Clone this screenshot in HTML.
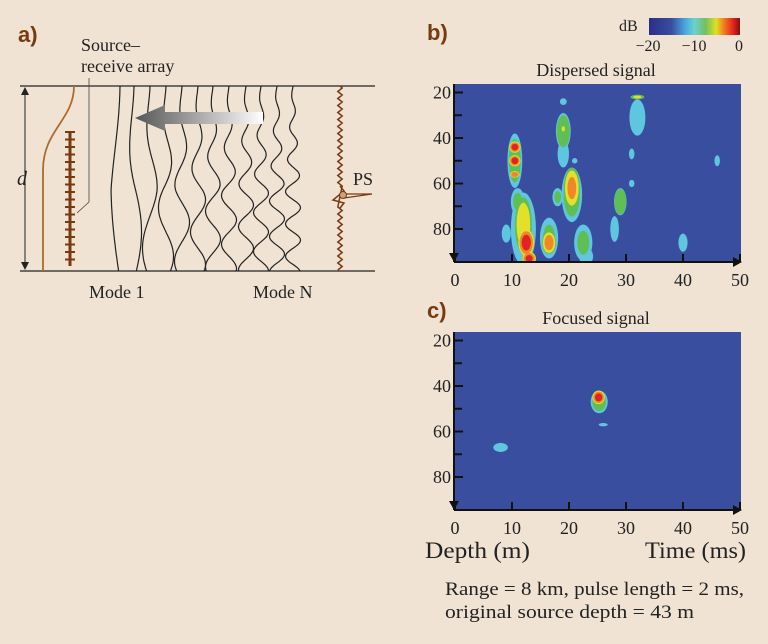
<!DOCTYPE html>
<html><head><meta charset="utf-8"><style>
html,body{margin:0;padding:0;background:#f0e3d4;}
svg{display:block;font-family:"Liberation Serif",serif;}
</style></head><body>
<svg id="fig" width="768" height="644" viewBox="0 0 768 644">
<defs>
<linearGradient id="arrg" x1="0" x2="1" y1="0" y2="0"><stop offset="0" stop-color="#555"/><stop offset="1" stop-color="#fff"/></linearGradient>
<linearGradient id="cbar" x1="0" x2="1"><stop offset="0" stop-color="#2a2f86"/><stop offset="0.25" stop-color="#3a4ea0"/><stop offset="0.4" stop-color="#4aa8e0"/><stop offset="0.5" stop-color="#6cd0d0"/><stop offset="0.62" stop-color="#70c060"/><stop offset="0.74" stop-color="#e0e020"/><stop offset="0.82" stop-color="#f08020"/><stop offset="0.93" stop-color="#e02020"/><stop offset="1" stop-color="#801010"/></linearGradient>
<clipPath id="clipB"><rect x="455" y="84" width="286" height="178"/></clipPath>
<clipPath id="clipC"><rect x="455" y="332" width="286" height="178"/></clipPath>
</defs>

<g>
<text x="18" y="42" font-family="Liberation Sans,sans-serif" font-weight="bold" font-size="22" fill="#7a3a10">a)</text>
<text x="81" y="51" font-size="18" fill="#222">Source–</text>
<text x="81" y="72" font-size="18" fill="#222">receive array</text>
<line x1="20" y1="86" x2="375" y2="86" stroke="#222" stroke-width="1.2"/>
<line x1="20" y1="271" x2="375" y2="271" stroke="#222" stroke-width="1.2"/>
<g>
<line x1="25" y1="92" x2="25" y2="265" stroke="#222"/>
<path d="M21,95 L25,87 L29,95Z M21,262 L25,270 L29,262Z" fill="#222"/>
<text x="17" y="185" font-size="20" font-style="italic" fill="#222">d</text>
</g>
<path d="M74,86 C74,120 43,130 43,170 L43,271" fill="none" stroke="#b06a2a" stroke-width="1.8"/>
<path d="M89,78 L89,202 L77,213" fill="none" stroke="#444" stroke-width="0.8"/>
<g id="arr"></g>
<g id="modes"></g>
<g>
<path d="M263,112 L165,112 L165,105 L135,118 L165,131 L165,124 L263,124Z" fill="url(#arrg)"/>
</g>
<path id="ps" fill="none" stroke="#7a3a10" stroke-width="1.5"/>
<path d="M344,194 L372,194 L344,198" fill="none" stroke="#7a3a10" stroke-width="1.2"/>
<circle cx="343" cy="195" r="3.5" fill="#c9a27a" stroke="#7a3a10"/>
<text x="353" y="185" font-size="18" fill="#222">PS</text>
<text x="89" y="298" font-size="18" fill="#222">Mode 1</text>
<text x="253" y="298" font-size="18" fill="#222">Mode N</text>
</g>

<g>
<text x="619" y="31" font-size="16" fill="#222">dB</text>
<rect x="649" y="18" width="91" height="17" fill="url(#cbar)"/>
<text x="648" y="51" font-size="16" text-anchor="middle" fill="#222">−20</text>
<text x="694" y="51" font-size="16" text-anchor="middle" fill="#222">−10</text>
<text x="739" y="51" font-size="16" text-anchor="middle" fill="#222">0</text>
</g>

<text x="427" y="40" font-family="Liberation Sans,sans-serif" font-weight="bold" font-size="22" fill="#7a3a10">b)</text>
<text x="596" y="76" font-size="18" text-anchor="middle" fill="#222">Dispersed signal</text>
<text x="427" y="318" font-family="Liberation Sans,sans-serif" font-weight="bold" font-size="22" fill="#7a3a10">c)</text>
<text x="596" y="324" font-size="18" text-anchor="middle" fill="#222">Focused signal</text>

<g id="plotB"></g>
<g id="plotC"></g>

<text x="425" y="558" font-size="23" fill="#222" textLength="105" lengthAdjust="spacingAndGlyphs">Depth (m)</text>
<text x="645" y="558" font-size="23" fill="#222" textLength="101" lengthAdjust="spacingAndGlyphs">Time (ms)</text>
<text x="445" y="595" font-size="19" fill="#222" textLength="299" lengthAdjust="spacingAndGlyphs">Range = 8 km, pulse length = 2 ms,</text>
<text x="445" y="618" font-size="19" fill="#222" textLength="249" lengthAdjust="spacingAndGlyphs">original source depth = 43 m</text>
</svg>
<script>
const xTicks = [0, 10, 20, 30, 40, 50];
const yTicks = [20, 40, 60, 80];
const yMinorTicks = [30, 50, 70];
const levels = [-16, -12, -8, -5, -2];
const levelColors = ['#5ec6de', '#5fbf55', '#e2e02a', '#f0882a', '#e02424'];
// blobs: time(ms), depth(m), half-width(ms), half-height(m), peak dB
const blobTime  = [10.5,10.5,10.5,10.5,11,12,12.5,13,12,9,16.5,16.5,19,19,19,19,21,20.5,20.5,18,22.5,23,32,32,31,31,29,28,40,46,35,33.5];
const blobDepth = [50,44,50,56,68,78,86,93,80,82,86,84,24,37,36,47,50,62,65,66,86,92,22,31,47,60,68,80,86,50,72,42];
const blobHW    = [1.3,1.0,1.0,0.9,1.2,1.5,1.4,1.2,2.2,0.8,1.2,1.6,0.6,1.3,0.5,1.0,0.6,1.4,1.8,0.9,1.6,1.3,1.2,1.4,0.6,0.6,1.1,0.8,0.8,0.6,1.2,0.6];
const blobHH    = [12,2.5,2.5,1.5,6,12,6,3,16,4,5,9,1.5,8,2,6,1.5,9,12,4,8,4,1,8,3,2,6,6,4,3,2,1];
const blobPeak  = [-10,-0.5,-0.5,-2,-11,-5,-0.5,-1,-11,-13,-3,-11,-13,-9,-7,-12,-15,-4,-10,-11,-11,-14,-7,-12,-15,-15,-8,-14,-13,-15,-17,-16];
const focTime  = [25.3,25.2,26,8,9,14,15,23,13,17,24,6];
const focDepth = [47,45,57,67,62,49,58,70,90,89,79,79];
const focHW    = [1.5,1.1,1.0,1.6,0.8,1.0,1.0,0.8,1.1,0.7,0.6,0.6];
const focHH    = [5,3,0.9,2.5,1.5,0.7,1.5,3,2,1,0.8,0.5];
const focPeak  = [-10,-0.5,-15,-15,-16,-16,-16,-17,-16,-16,-17,-17];

const NS = 'http://www.w3.org/2000/svg';
function mk(tag, attrs, parent){const e=document.createElementNS(NS,tag);for(const k in attrs)e.setAttribute(k,attrs[k]);parent.appendChild(e);return e;}

function drawPlot(gid, top, clip, T, D, HW, HH, P){
  const g = document.getElementById(gid);
  const x0=455, x1=741, y0=top, y1=top+178;
  const xs = t => x0 + (t/50)*(x1-x0-1);
  const ys = d => y0 + 8.5 + (d-20)*(45.5/20);
  const bg = mk('rect',{x:x0,y:y0,width:x1-x0,height:y1-y0,fill:'#3a4ea0'},g);
  
  
  const cg = mk('g',{'clip-path':'url(#'+clip+')'},g);
  for(let L=0; L<levels.length; L++){
    for(let i=0;i<T.length;i++){
      if(P[i] > levels[L]){
        const f = (levels[L]+20)/(P[i]+20);
        const s = Math.min(1, Math.sqrt(Math.max(0,1-f*f))+0.2);
        const e = mk('ellipse',{cx:xs(T[i]),cy:ys(D[i]),rx:HW[i]*5.7*s,ry:HH[i]*2.27*s,fill:levelColors[L]},cg);
        
        
      }
    }
  }
  const ax = mk('g',{stroke:'#111','stroke-width':2},g);
  
  
  mk('line',{x1:x0-1,y1:y0,x2:x0-1,y2:y1},ax);
  mk('line',{x1:x0-1,y1:y1,x2:x1-6,y2:y1},ax);
  mk('path',{d:`M${x1-8},${y1-5} L${x1+1},${y1} L${x1-8},${y1+5}Z`,fill:'#111',stroke:'none'},ax);
  mk('path',{d:`M${x0-6},${y1-9} L${x0-1},${y1} L${x0+4},${y1-9}Z`,fill:'#111',stroke:'none'},ax);
  yTicks.forEach(v=>{
    mk('line',{x1:x0-1,y1:ys(v),x2:x0+8,y2:ys(v)},ax);
    const t=mk('text',{x:x0-4,y:ys(v)+6,'font-size':18,'text-anchor':'end',fill:'#222',stroke:'none'},g);t.textContent=v;
    
    
  });
  yMinorTicks.forEach(v=>mk('line',{x1:x0-1,y1:ys(v),x2:x0+7,y2:ys(v)},ax));
  xTicks.forEach(v=>{
    mk('line',{x1:xs(v),y1:y1,x2:xs(v),y2:y1-8},ax);
    const t=mk('text',{x:xs(v),y:y1+24,'font-size':18,'text-anchor':'middle',fill:'#222',stroke:'none'},g);t.textContent=v;
    
    
  });
}
drawPlot('plotB',84,'clipB',blobTime,blobDepth,blobHW,blobHH,blobPeak);
drawPlot('plotC',332,'clipC',focTime,focDepth,focHW,focHH,focPeak);

const modeX = [120,134,150,166,182,198,213,229,246,261,277,293];
const mg = document.getElementById('modes');
modeX.forEach((x,i)=>{
  const n=i+1; let d='';
  for(let k=0;k<=120;k++){
    const z=k/120; const y=86+z*185;
    const env = Math.min(1, z*1.6+0.1) * (n===1?9:7.5);
    const dx = -env*Math.sin(n*Math.PI*z*0.95);
    d += (k?'L':'M')+(x+dx).toFixed(1)+','+y.toFixed(1);
  }
  const p=mk('path',{d:d,fill:'none',stroke:'#222','stroke-width':1.2},mg);
  
  
});
const ag=document.getElementById('arr');
mk('line',{x1:70,y1:131,x2:70,y2:266,stroke:'#7a3a10','stroke-width':3},ag);
for(let y=132;y<=266;y+=7.5){mk('line',{x1:65,y1:y,x2:75,y2:y,stroke:'#7a3a10','stroke-width':2},ag);}
let pd='M340,86';
let flip=1;
for(let y=88;y<271;y+=3.5){ if(Math.abs(y-196)<9) continue; pd+=` L${340+flip*2.2},${y.toFixed(1)}`; flip=-flip;}
document.getElementById('ps').setAttribute('d',pd+' M340,186 L344,191 L333,200 L344,203 L340,208');
</script>
</body></html>
